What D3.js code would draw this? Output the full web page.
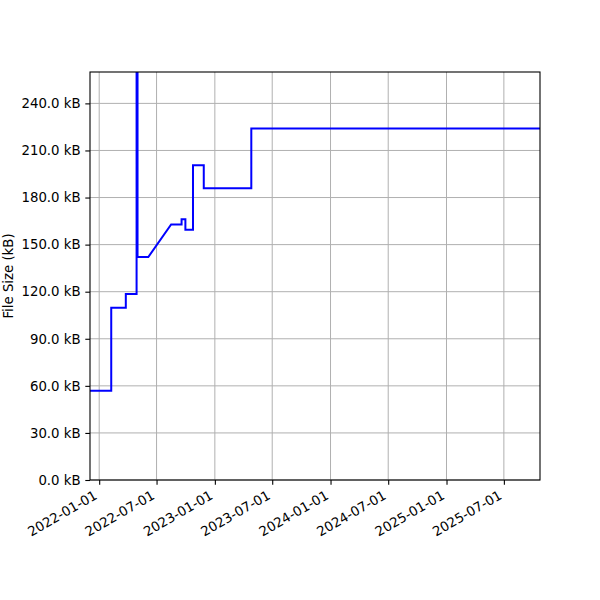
<!DOCTYPE html>
<html>
<head>
<meta charset="utf-8">
<script src="https://cdn.jsdelivr.net/npm/d3@7"></script>
<style>
  body { margin: 0; background: #fff; }
  svg text { font-family: "DejaVu Sans", sans-serif; }
</style>
</head>
<body>
<svg id="chart" width="600" height="600"></svg>
<script>
// vertices of the size history (date, kB)
var pointDates = ["2021-12-01", "2022-02-08", "2022-02-08", "2022-03-26", "2022-03-26",
  "2022-04-29", "2022-04-29", "2022-05-02", "2022-05-02", "2022-06-05", "2022-08-16",
  "2022-09-18", "2022-09-18", "2022-09-30", "2022-09-30", "2022-10-24", "2022-10-24",
  "2022-11-27", "2022-11-27", "2023-04-26", "2023-04-26", "2025-11-01"];
var pointSizes = [56.8, 56.8, 109.8, 109.8, 118.5,
  118.5, 500, 500, 142.1, 142.1, 162.8,
  162.8, 166.2, 166.2, 159.4, 159.4, 200.6,
  200.6, 185.9, 185.9, 224.0, 224.0];

var xTickLabels = ["2022-01-01", "2022-07-01", "2023-01-01", "2023-07-01",
  "2024-01-01", "2024-07-01", "2025-01-01", "2025-07-01"];
var yTickValues = [0, 30, 60, 90, 120, 150, 180, 210, 240];

var svg = d3.select("#chart"),
    margin = {left: 90, right: 60, top: 72, bottom: 120},
    width = 600 - margin.left - margin.right,
    height = 600 - margin.top - margin.bottom;

var parse = d3.utcParse("%Y-%m-%d");
var data = pointDates.map(function(d, i) { return {date: parse(d), size: pointSizes[i]}; });

var x = d3.scaleUtc()
    .domain([parse("2021-12-03"), parse("2025-10-23")])
    .range([0, width]);
var y = d3.scaleLinear()
    .domain([0, 260])
    .range([height, 0]);

var g = svg.append("g").attr("transform", "translate(" + margin.left + "," + margin.top + ")");

g.append("defs").append("clipPath").attr("id", "clip")
  .append("rect").attr("width", width).attr("height", height);

// grid
g.append("g")
  .selectAll("line")
  .data(xTickLabels)
  .enter().append("line")
    .attr("x1", function(d) { return x(parse(d)); })
    .attr("x2", function(d) { return x(parse(d)); })
    .attr("y1", 0).attr("y2", height)
    .attr("stroke", "#b0b0b0").attr("stroke-width", 1);
g.append("g")
  .selectAll("line")
  .data(yTickValues)
  .enter().append("line")
    .attr("y1", function(d) { return y(d); })
    .attr("y2", function(d) { return y(d); })
    .attr("x1", 0).attr("x2", width)
    .attr("stroke", "#b0b0b0").attr("stroke-width", 1);

var line = d3.line()
    .x(function(d) { return x(d.date); })
    .y(function(d) { return y(d.size); });

g.append("path")
  .datum(data)
  .attr("clip-path", "url(#clip)")
  .attr("fill", "none")
  .attr("stroke", "#0000ff")
  .attr("stroke-width", 2)
  .attr("stroke-linejoin", "miter")
  .attr("d", line);

// frame
g.append("rect")
  .attr("width", width).attr("height", height)
  .attr("fill", "none").attr("stroke", "#000").attr("stroke-width", 1.1);

var xAxis = g.append("g")
  .attr("transform", "translate(0," + height + ")")
  .call(d3.axisBottom(x)
    .tickValues(xTickLabels.map(parse))
    .tickFormat(d3.utcFormat("%Y-%m-%d"))
    .tickSize(4.7).tickPadding(3));
xAxis.select(".domain").remove();
// rotated 30deg, right edge of the label box under the tick
xAxis.selectAll("text")
  .attr("font-size", "13.3px")
  .attr("fill", "#000")
  .attr("text-anchor", "end")
  .attr("x", -1.5)
  .attr("y", 18)
  .attr("dy", null)
  .attr("transform", "rotate(-30,-1.5,18)");

var yAxis = g.append("g")
  .call(d3.axisLeft(y)
    .tickValues(yTickValues)
    .tickFormat(function(d) { return d3.format(".1f")(d) + " kB"; })
    .tickSize(4.7).tickPadding(4.7));
yAxis.select(".domain").remove();
yAxis.selectAll("text").attr("font-size", "13.3px").attr("fill", "#000");
svg.selectAll(".tick line").attr("stroke", "#000").attr("stroke-width", 1.1);

svg.append("text")
  .attr("transform", "translate(13," + (margin.top + height / 2) + ") rotate(-90)")
  .attr("text-anchor", "middle")
  .attr("font-size", "13.3px")
  .text("File Size (kB)");
</script>
</body>
</html>
